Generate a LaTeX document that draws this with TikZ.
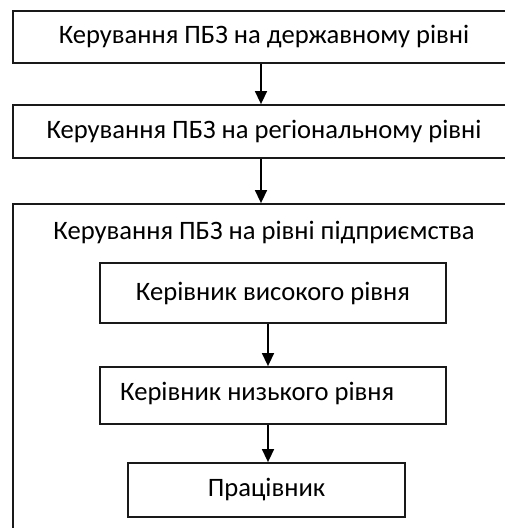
\documentclass[tikz,border=0pt]{standalone}
\usepackage{fontspec}
\setmainfont{Carlito}
\usetikzlibrary{arrows.meta}
\begin{document}
\begin{tikzpicture}[x=1pt,y=-1pt,
  box/.style={draw=black!90,line width=1.8pt,inner sep=0pt,font=\fontsize{26.6}{30}\selectfont},
  arr/.style={line width=1.5pt,-{Triangle[length=13pt,width=12pt]}},
  lbl/.style={inner sep=0pt,font=\fontsize{26.6}{30}\selectfont}]
\useasboundingbox (0,0) rectangle (505,528);
\clip (0,0) rectangle (505,528);
\node[box,minimum width=502pt,minimum height=52pt] (b1) at (264,37) {Керування ПБЗ на державному рівні};
\node[box,minimum width=502pt,minimum height=53pt] (b2) at (264,131.5) {Керування ПБЗ на регіональному рівні};
\node[box,minimum width=502pt,minimum height=336pt] (b3) at (264,372) {};
\node[lbl] (t3) at (264,233) {Керування ПБЗ на рівні підприємства};
\node[box,minimum width=346pt,minimum height=60pt] (i1) at (273,293) {Керівник високого рівня};
\node[box,minimum width=346pt,minimum height=57pt] (i2) at (273,395.5) {};
\node[lbl,anchor=west] (i2t) at (120,393) {Керівник низького рівня};
\node[box,minimum width=277pt,minimum height=54pt] (i3) at (266.5,490) {Працівник};
\coordinate (ax) at (261,0);
\coordinate (bx) at (268,0);
\draw[arr] (b1.south -| ax) -- (b2.north -| ax);
\draw[arr] (b2.south -| ax) -- (b3.north -| ax);
\draw[arr] (i1.south -| bx) -- (i2.north -| bx);
\draw[arr] (i2.south -| bx) -- (i3.north -| bx);
\end{tikzpicture}
\end{document}
